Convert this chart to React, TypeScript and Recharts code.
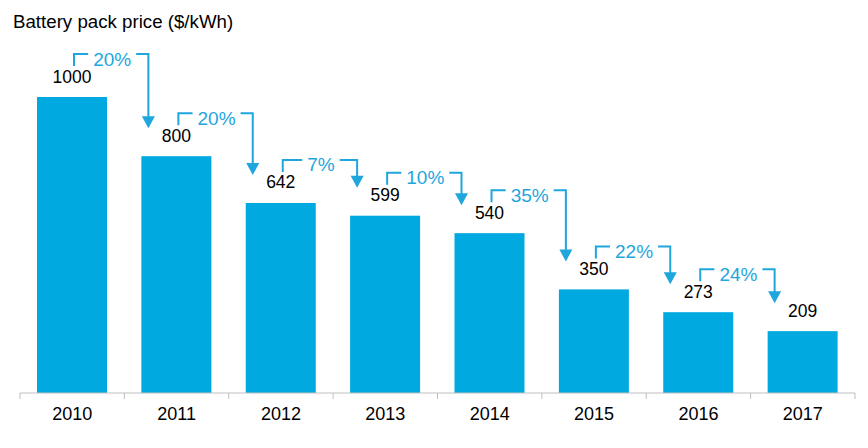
import React from 'react';
import { BarChart, Bar, XAxis, YAxis } from 'recharts';

const years = ['2010', '2011', '2012', '2013', '2014', '2015', '2016', '2017'];
const prices = [1000, 800, 642, 599, 540, 350, 273, 209];
const declines = ['20%', '20%', '7%', '10%', '35%', '22%', '24%'];
const title = 'Battery pack price ($/kWh)';

const data = years.map((year, i) => ({ year, price: prices[i] }));

const W = 868;
const H = 448;
const MARGIN = { top: 97, right: 13, left: 20, bottom: 25 };
const PLOT_W = W - MARGIN.left - MARGIN.right;
const STEP = PLOT_W / years.length;
const FONT = '"Liberation Sans", Arial, sans-serif';
const BAR_COLOR = '#00A9E0';
const ARROW_COLOR = '#1FA6DD';
const AXIS_COLOR = '#BFBFBF';
const PCT_FS = 19;

const textWidth = (s: string, fs: number) =>
  s.split('').reduce((acc, ch) => acc + (ch === '%' ? 0.889 : 0.556), 0) * fs;

const BarShape = (props: any) => {
  const { x, y, width, height, index } = props;
  const price = prices[index];
  const cx = x + width / 2;
  const base = y + height;
  const k = height / price;
  const parts: any[] = [];
  parts.push(<rect key="r" x={x} y={y} width={width} height={height} fill={BAR_COLOR} />);
  parts.push(
    <text key="v" x={cx} y={y - 14.5} textAnchor="middle" fontSize={17.5} fontFamily={FONT} fill="#000">
      {price}
    </text>
  );
  if (index < prices.length - 1) {
    const nTop = base - prices[index + 1] * k;
    const bTop = y - 43;
    const lx = cx + 2;
    const rx = cx + STEP - 28;
    const tip = nTop - 28;
    const mx = (lx + rx) / 2 + 1;
    const half = textWidth(declines[index], PCT_FS) / 2 + 5;
    parts.push(
      <path
        key="b"
        d={`M${lx},${bTop + 12} V${bTop} H${mx - half} M${mx + half},${bTop} H${rx} V${tip - 10}`}
        fill="none"
        stroke={ARROW_COLOR}
        strokeWidth={2}
      />
    );
    parts.push(
      <polygon key="a" points={`${rx - 6.5},${tip - 12} ${rx + 6.5},${tip - 12} ${rx},${tip}`} fill={ARROW_COLOR} />
    );
    parts.push(
      <text key="p" x={mx} y={bTop + 11.5} textAnchor="middle" fontSize={PCT_FS} fontFamily={FONT} fill={ARROW_COLOR}>
        {declines[index]}
      </text>
    );
  }
  return <g>{parts}</g>;
};

const YearTick = (props: any) => {
  const { x, y, payload, index } = props;
  return (
    <g>
      <line x1={x - STEP / 2} x2={x - STEP / 2} y1={y} y2={y + 6} stroke={AXIS_COLOR} />
      {index === years.length - 1 && (
        <line x1={x + STEP / 2} x2={x + STEP / 2} y1={y} y2={y + 6} stroke={AXIS_COLOR} />
      )}
      <text x={x} y={y + 26.5} textAnchor="middle" fontSize={18} fontFamily={FONT} fill="#000">
        {payload.value}
      </text>
    </g>
  );
};

export default function App() {
  return (
    <div style={{ position: 'absolute', left: 0, top: 0, width: W, height: H, background: '#fff' }}>
      <BarChart width={W} height={H} data={data} margin={MARGIN} barCategoryGap={17}>
        <XAxis
          dataKey="year"
          height={30}
          axisLine={{ stroke: AXIS_COLOR }}
          tickLine={false}
          tickSize={0}
          tickMargin={0}
          tick={<YearTick />}
          interval={0}
        />
        <YAxis hide domain={[0, 1000]} />
        <Bar dataKey="price" shape={<BarShape />} isAnimationActive={false} />
      </BarChart>
      <svg width={W} height={40} style={{ position: 'absolute', left: 0, top: 0 }}>
        <text x={13} y={28} fontSize={18.7} fontFamily={FONT} fill="#000">
          {title}
        </text>
      </svg>
    </div>
  );
}
